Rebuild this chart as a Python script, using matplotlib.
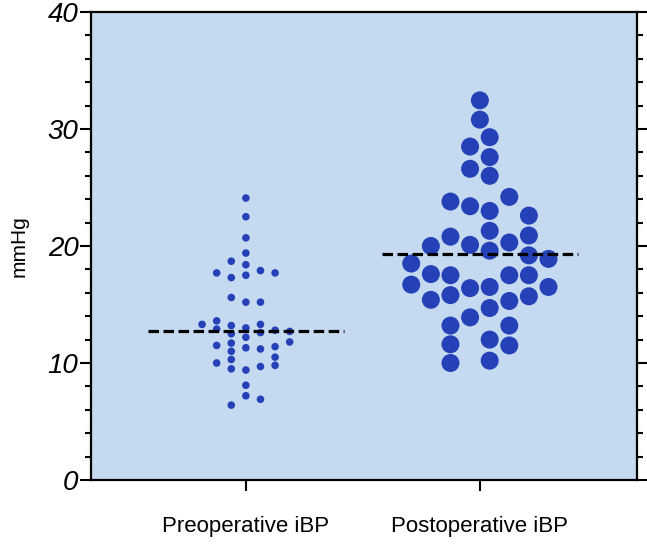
import numpy as np
import matplotlib
matplotlib.use("Agg")
import matplotlib.pyplot as plt
from matplotlib.ticker import MultipleLocator

plt.rcParams['font.family'] = ['Liberation Sans', 'DejaVu Sans']

# Groups
categories = ["Preoperative iBP", "Postoperative iBP"]

# Preoperative values (mmHg) and swarm slot of each dot
pre_values = [24.1, 22.5, 20.7, 19.4, 18.7, 18.4, 17.7, 17.3, 17.5, 17.9, 17.7,
              15.6, 15.2, 15.2, 13.3, 13.6, 12.9, 13.2, 12.5, 13.0, 12.2, 13.3,
              12.6, 12.8, 12.7, 11.8, 11.5, 11.7, 11.0, 11.3, 11.2, 11.4, 10.5,
              9.8, 10.0, 10.3, 9.5, 9.4, 9.7, 8.1, 7.2, 6.9, 6.4]
pre_slots = [0, 0, 0, 0, -1, 0, -2, -1, 0, 1, 2,
             -1, 0, 1, -3, -2, -2, -1, -1, 0, 0, 1,
             1, 2, 3, 3, -2, -1, -1, 0, 1, 2, 2,
             2, -2, -1, -1, 0, 1, 0, 0, 1, -1]

# Postoperative values (mmHg) and swarm slot of each dot
post_values = [32.45, 30.8, 29.3, 28.5, 27.6, 26.6, 26.0, 24.2, 23.8, 23.4, 23.0,
               22.6, 20.8, 21.3, 20.9, 20.0, 20.1, 19.6, 20.3, 19.2, 18.9, 18.5,
               16.7, 17.6, 17.5, 17.5, 17.5, 15.4, 15.8, 16.4, 16.5, 15.7, 16.5,
               15.3, 13.9, 14.7, 13.2, 13.2, 11.6, 12.0, 11.5, 10.0, 10.2]
post_slots = [0, 0, 0.5, -0.5, 0.5, -0.5, 0.5, 1.5, -1.5, -0.5, 0.5,
              2.5, -1.5, 0.5, 2.5, -2.5, -0.5, 0.5, 1.5, 2.5, 3.5, -3.5,
              -3.5, -2.5, -1.5, 1.5, 2.5, -2.5, -1.5, -0.5, 0.5, 2.5, 3.5,
              1.5, -0.5, 0.5, -1.5, 1.5, -1.5, 0.5, 1.5, -1.5, 0.5]

# Dashed centre line for each group
center_lines = [12.7, 19.3]

dot_color = "#2541B8"
bg_color = "#C5DAF0"

fig = plt.figure(figsize=(6.47, 5.49), dpi=100)
ax = fig.add_axes([0.1406, 0.1257, 0.8434, 0.8524])
ax.set_facecolor(bg_color)

groups = [(pre_values, pre_slots, 0.0624, 30),
          (post_values, post_slots, 0.0838, 168)]
for i, (vals, slots, step, size) in enumerate(groups):
    x = i + np.array(slots) * step
    ax.scatter(x, vals, s=size, color=dot_color, edgecolors="none", zorder=3)
    ax.plot([i - 0.42, i + 0.42], [center_lines[i]] * 2, color="black",
            lw=2.3, linestyle=(0, (3.3, 1.4)), zorder=4)

ax.set_xlim(-0.662, 1.67)
ax.set_ylim(0, 40)
ax.set_xticks([0, 1])
ax.set_xticklabels(categories, fontsize=16)
ax.yaxis.set_minor_locator(MultipleLocator(2))
ax.set_yticks([0, 10, 20, 30, 40])
ax.set_yticklabels(["0", "10", "20", "30", "40"], fontsize=20, style="italic")

ax.tick_params(axis="y", which="major", length=8, width=1.5, pad=1,
               right=True, direction="out")
ax.tick_params(axis="y", which="minor", length=4.5, width=1.5,
               right=True, direction="out")
ax.tick_params(axis="x", length=8, width=1.5, pad=18)
ax.set_ylabel("mmHg", fontsize=15, labelpad=14)

for sp in ax.spines.values():
    sp.set_linewidth(1.6)

fig.savefig("out.png", dpi=100)
